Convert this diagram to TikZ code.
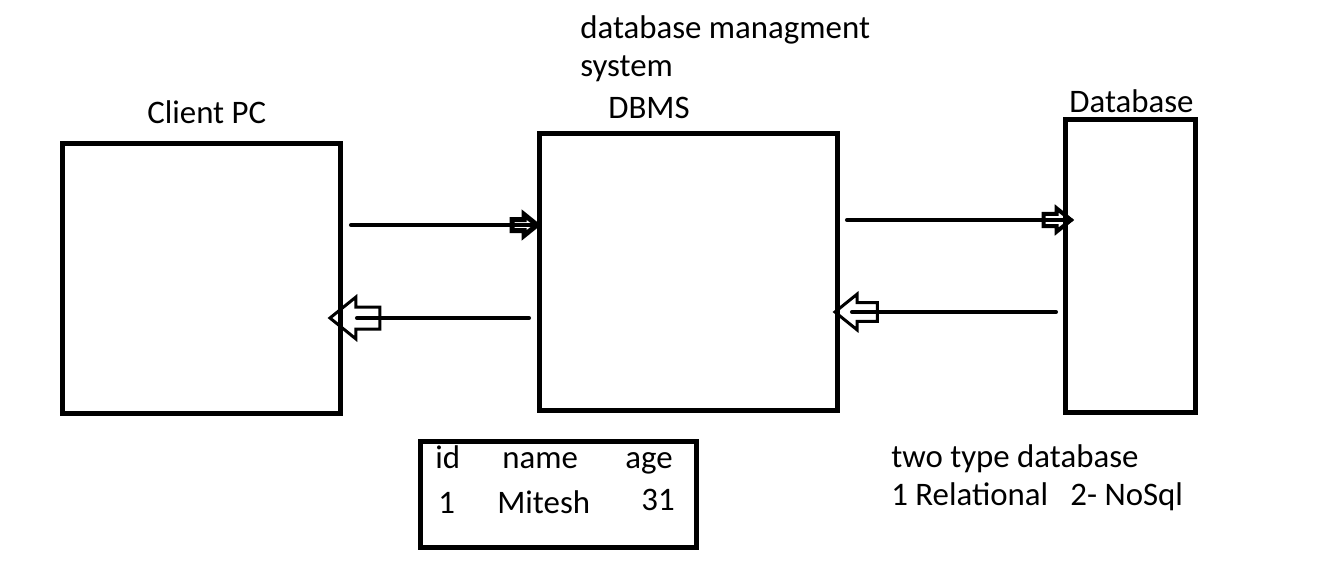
\documentclass[tikz,border=0pt]{standalone}
\usepackage{fontspec}
\setmainfont{Carlito}
\usetikzlibrary{calc}

\tikzset{
  openhead/.pic={
    \draw[line join=miter] (0,0) -- (-26,-21) -- (-26,-11) -- (-50,-11) -- (-50,11) -- (-26,11) -- (-26,21) -- cycle;
  }
}

\begin{document}
\begin{tikzpicture}[x=0.02cm, y=-0.02cm,
  box/.style={draw, line width=0.1cm, inner sep=0pt},
  lbl/.style={inner sep=0pt, anchor=base west, font=\fontsize{18.7}{22.5}\selectfont},
  flow/.style={line width=0.08cm, line cap=round}]

  \useasboundingbox (0,0) rectangle (1329,568);

  % Client PC
  \node[box, minimum width=5.56cm, minimum height=5.4cm] (client) at (201.5,278.5) {};
  \node[lbl] (clientlbl) at (147,123) {Client PC};

  % DBMS
  \node[box, minimum width=5.96cm, minimum height=5.54cm] (dbms) at (688.5,272) {};
  \node[lbl] (dbmsname) at (580,38) {database managment};
  \node[lbl] (dbmsname2) at (580,76) {system};
  \node[lbl] (dbmslbl) at (608,118) {DBMS};

  % Database
  \node[box, minimum width=2.6cm, minimum height=5.86cm] (db) at (1130.5,266) {};
  \node[lbl] (dblbl) at (1069,112) {Database};

  % Table below DBMS
  \node[box, minimum width=5.52cm, minimum height=2.12cm] (table) at (558.5,494.5) {};
  \node[lbl] (hid) at (435,468) {id};
  \node[lbl] (hname) at (502,468) {name};
  \node[lbl] (hage) at (625,468) {age};
  \node[lbl] (vid) at (438,513) {1};
  \node[lbl] (vname) at (497,513) {Mitesh};
  \node[lbl] (vage) at (641,510) {31};

  % Note on database types
  \node[lbl] (types) at (891,467) {two type database};
  \node[lbl] (types2) at (891,505) {1 Relational\ \ \ 2- NoSql};

  % Connections
  \draw[flow] ($(client.east |- 0,225)+(8,0)$) -- (dbms.west |- 0,225);
  \pic[scale=0.5, line width=0.1cm] at (dbms.west |- 0,225) {openhead};

  \draw[flow] ($(dbms.west |- 0,318)+(-8,0)$) -- ($(client.east |- 0,318)+(14,0)$);
  \pic[rotate=180, line width=0.06cm] at ($(client.east |- 0,318)+(-13,0)$) {openhead};

  \draw[flow] ($(dbms.east |- 0,220)+(7,0)$) -- ($(db.west |- 0,220)+(8,0)$);
  \pic[scale=0.55, line width=0.08cm] at ($(db.west |- 0,220)+(8,0)$) {openhead};

  \draw[flow] ($(db.west |- 0,312)+(-7,0)$) -- ($(dbms.east |- 0,312)+(12,0)$);
  \pic[rotate=180, scale=0.85, line width=0.06cm] at ($(dbms.east |- 0,312)+(-5,0)$) {openhead};

\end{tikzpicture}
\end{document}
